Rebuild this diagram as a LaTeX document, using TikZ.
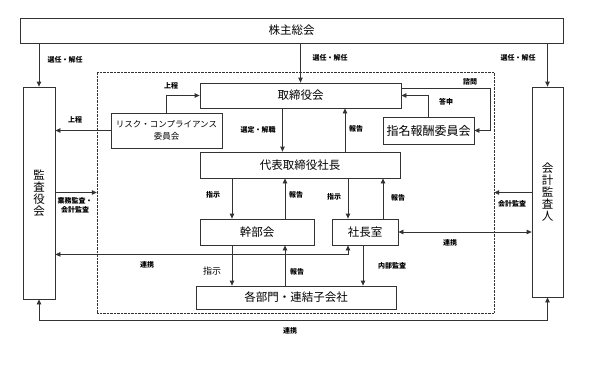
\documentclass[tikz,border=0pt]{standalone}
\usepackage{fontspec}
\setmainfont{Noto Sans CJK JP}
\usetikzlibrary{arrows.meta}
\definecolor{Line}{HTML}{333333}

\begin{document}
\begin{tikzpicture}[x=1pt,y=-1pt,
    box/.style={draw=Line,line width=0.8pt,inner sep=0pt,align=center,
      font=\fontsize{11.5}{12}\selectfont},
    lbl/.style={inner sep=0pt,align=center,
      font=\fontsize{7}{9}\selectfont\bfseries},
    arr/.style={draw=Line,line width=0.8pt,-{Triangle[length=5pt,width=4.5pt]}},
    arrs/.style={draw=Line,line width=0.8pt,
      {Triangle[length=5pt,width=4.5pt]}-{Triangle[length=5pt,width=4.5pt]}}]
  \useasboundingbox (0,0) rectangle (599,367);

  % outer boxes
  \node[box,minimum width=543pt,minimum height=25pt] (soukai) at (291.5,30.5) {株主総会};
  \node[box,minimum width=32pt,minimum height=212pt] (kansa) at (39,193) {監\\査\\役\\会};
  \node[box,minimum width=31pt,minimum height=210pt] (kaikei) at (547.5,192) {会\\計\\監\\査\\人};
  \node[draw=Line,densely dotted,minimum width=397pt,minimum height=241pt] (waku) at (295.5,192.5) {};

  % inner boxes
  \node[box,minimum width=201pt,minimum height=25pt] (torishimari) at (300.5,95.5) {取締役会};
  \node[box,minimum width=111pt,minimum height=35pt,
    font=\fontsize{8.5}{12}\selectfont] (risk) at (166.5,130.5) {リスク・コンプライアンス\\委員会};
  \node[box,minimum width=91pt,minimum height=27pt,
    font=\fontsize{12}{12}\selectfont] (shimei) at (428.5,130.5) {指名報酬委員会};
  \node[box,minimum width=200pt,minimum height=26pt] (shacho) at (300,165) {代表取締役社長};
  \node[box,minimum width=114pt,minimum height=26pt] (kanbu) at (257,232) {幹部会};
  \node[box,minimum width=66pt,minimum height=26pt] (shachoshitsu) at (365,232) {社長室};
  \node[box,minimum width=200pt,minimum height=23pt] (kakubu) at (296,297.5) {各部門・連結子会社};

  % connectors
  \draw[arr] (soukai.south -| kansa.north) -- (kansa.north);
  \draw[arr] (soukai.south -| torishimari.north) -- (torishimari.north);
  \draw[arr] (soukai.south -| kaikei.north) -- (kaikei.north);
  \draw[arr] (risk.north) |- (torishimari.west);
  \draw[arr] (risk.west) -- (risk.west -| kansa.east);
  \draw[arr] ([xshift=-18pt]torishimari.south) -- ([xshift=-18pt]torishimari.south |- shacho.north);
  \draw[arr] ([xshift=45pt]shacho.north) -- ([xshift=45pt]shacho.north |- torishimari.south);
  \draw[arr] (shimei.north) |- (torishimari.east);
  \draw[arr] ([yshift=7.5pt]torishimari.east) -- ++(89,0) |- (shimei.east);
  \draw[arr] ([xshift=-25pt]kanbu.north |- shacho.south) -- ([xshift=-25pt]kanbu.north);
  \draw[arr] ([xshift=28pt]kanbu.north) -- ([xshift=28pt]kanbu.north |- shacho.south);
  \draw[arr] ([xshift=-17pt]shachoshitsu.north |- shacho.south) -- ([xshift=-17pt]shachoshitsu.north);
  \draw[arr] ([xshift=18pt]shachoshitsu.north) -- ([xshift=18pt]shachoshitsu.north |- shacho.south);
  \draw[arr] (kansa.east |- waku.west) -- (waku.west);
  \draw[arr] (kaikei.west |- waku.east) -- (waku.east);
  \draw[arrs] (shachoshitsu.east) -- (shachoshitsu.east -| kaikei.west);
  \draw[arrs] ([yshift=-9pt]shachoshitsu.south -| kansa.east) -| ([xshift=-17pt]shachoshitsu.south);
  \draw[arr] ([xshift=-2pt]shachoshitsu.south) -- ([xshift=-2pt]shachoshitsu.south |- kakubu.north);
  \draw[arr] ([xshift=-25pt]kanbu.south) -- ([xshift=-25pt]kanbu.south |- kakubu.north);
  \draw[arr] ([xshift=28pt]kanbu.south |- kakubu.north) -- ([xshift=28pt]kanbu.south);
  \draw[arrs] (kansa.south) -- ([yshift=-21pt]kansa.south) -| (kaikei.south);

  % labels
  \node[lbl] (senninA) at (65,60) {選任・解任};
  \node[lbl] (senninB) at (330,58) {選任・解任};
  \node[lbl] (senninC) at (518,58) {選任・解任};
  \node[lbl] (joteiA) at (171,86) {上程};
  \node[lbl] (joteiB) at (75,120) {上程};
  \node[lbl] (sentei) at (258,130) {選定・解職};
  \node[lbl] (hokokuA) at (356,129) {報告};
  \node[lbl] (toshin) at (446,102) {答申};
  \node[lbl] (shimon) at (470,82) {諮問};
  \node[lbl] (shijiA) at (213,195) {指示};
  \node[lbl] (hokokuB) at (296,195) {報告};
  \node[lbl] (shijiB) at (334,197) {指示};
  \node[lbl] (hokokuC) at (398,198) {報告};
  \node[lbl] (gyomu) at (75,205.5) {業務監査・\\会計監査};
  \node[lbl] (kaikeikansa) at (512,204) {会計監査};
  \node[lbl] (renkeiA) at (450,243) {連携};
  \node[lbl] (renkeiB) at (147,265) {連携};
  \node[lbl] (naibu) at (392,266) {内部監査};
  \node[lbl,font=\fontsize{9}{10}\selectfont] (shijiC) at (212,271) {指示};
  \node[lbl] (hokokuD) at (297,272) {報告};
  \node[lbl] (renkeiC) at (290,331) {連携};
\end{tikzpicture}
\end{document}
